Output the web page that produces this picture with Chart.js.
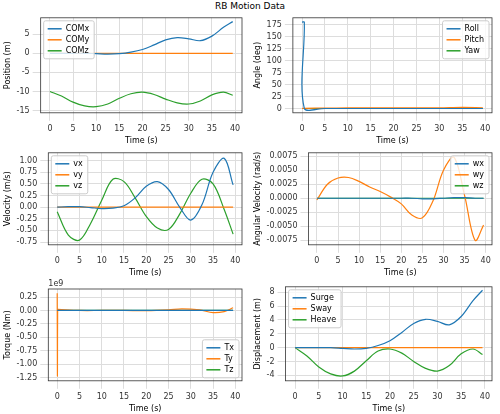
<!DOCTYPE html><html><head><meta charset="utf-8">
<script src="https://cdn.jsdelivr.net/npm/chart.js@4"></script>
<style>body{margin:0;width:500px;height:414px;background:#fff;font-family:"DejaVu Sans";position:relative;overflow:hidden}
.c{position:absolute}#title{position:absolute;top:1px;left:0;width:500px;text-align:center;font-size:9px;color:#000}</style></head><body>
<div id="title">RB Motion Data</div>
<div class="c" style="left:0;top:10px;width:250px;height:136px"><canvas id="c1"></canvas></div>
<div class="c" style="left:250px;top:10px;width:250px;height:136px"><canvas id="c2"></canvas></div>
<div class="c" style="left:0;top:145px;width:250px;height:133px"><canvas id="c3"></canvas></div>
<div class="c" style="left:250px;top:145px;width:250px;height:133px"><canvas id="c4"></canvas></div>
<div class="c" style="left:0;top:279px;width:250px;height:135px"><canvas id="c5"></canvas></div>
<div class="c" style="left:250px;top:279px;width:250px;height:135px"><canvas id="c6"></canvas></div>
<script>
const t=[0,2.5,5,7.5,10,12.5,15,17.5,20,22.5,25,27.5,30,32.5,35,37.5,39.5];
const zeros=t.map(()=>0);
const COMx=[0,0,0,0,-0.1,-0.2,-0.1,0.3,1.0,2.2,3.5,4.1,3.8,3.3,4.5,6.8,8.3];
const COMy=zeros;
const COMz=[-10,-11.2,-12.8,-13.8,-14,-13.3,-11.8,-10.6,-10.2,-10.8,-12,-13,-13.3,-12.5,-10.9,-10.2,-11];
const tAng=[0,0.5,0.5,5,10,15,20,25,30,35,39.5];
const Roll=[180,180,0,0,0,0,0,0,0,0,0];
const Pitch=[0,0.3,0.3,0.8,1.2,1.5,1.4,1.2,1.3,2.2,1.5];
const Yaw=[0,0,0,0,0,0,0,0,0,0,0];
const vx=[0,0.01,0.01,-0.01,-0.03,-0.02,0.03,0.2,0.45,0.55,0.38,0.0,-0.28,0.05,0.75,1.05,0.48];
const vy=zeros;
const vz=[-0.1,-0.6,-0.71,-0.35,0.15,0.6,0.55,0.2,-0.2,-0.45,-0.48,-0.15,0.3,0.6,0.5,-0.05,-0.58];
const wx=[0,0,0,0,0,0,0,0,0,0,-0.0001,-0.0001,0,0.0001,0.0001,0,0];
const wy=[-0.0003,0.0025,0.0036,0.0037,0.003,0.002,0.0012,0.0002,-0.001,-0.003,-0.0035,-0.0005,0.005,0.0073,0.0005,-0.0075,-0.0048];
const wz=zeros;
const tTq=[0,0.05,0.1,0.2,5,10,15,20,25,28,32,35,37.5,39.5];
const Tx=[0,0,0,0,0,0,0,0,0,0,0,0,0,0];
const Ty=[0.32,-1.22,0.02,0.02,0,0,0,-0.005,0.01,0.03,0.01,-0.04,-0.02,0.05]; // units of 1e9 Nm
const Tz=[0,0,0,0,0,0,0,0,0,0,0,0,0,0];
const Surge=COMx;
const Sway=zeros;
const Heave=[0,-1.2,-2.8,-3.8,-4.1,-3.4,-1.9,-0.5,-0.2,-0.8,-2,-3,-3.4,-2.6,-0.9,-0.2,-1];
const C=['#1f77b4','#ff7f0e','#2ca02c'];
const legendPlugin={id:'ilg',afterDraw(ch,a,o){const ctx=ch.ctx,ca=ch.chartArea,ds=ch.data.datasets;ctx.save();ctx.font='8px "DejaVu Sans"';
 let w=0;ds.forEach(d=>w=Math.max(w,ctx.measureText(d.label).width));const bw=w+27,bh=ds.length*11+5;
 let x=o.pos.includes('right')?ca.right-bw-3:ca.left+3,y=o.pos.includes('bottom')?ca.bottom-bh-3:ca.top+3;
 ctx.fillStyle='rgba(255,255,255,0.8)';ctx.strokeStyle='#ccc';ctx.lineWidth=1;ctx.beginPath();ctx.roundRect(x,y,bw,bh,2);ctx.fill();ctx.stroke();
 ds.forEach((d,i)=>{const yy=y+8+i*11;ctx.strokeStyle=d.borderColor;ctx.lineWidth=1.5;ctx.beginPath();ctx.moveTo(x+4,yy);ctx.lineTo(x+18,yy);ctx.stroke();
 ctx.fillStyle='#000';ctx.textBaseline='middle';ctx.fillText(d.label,x+22,yy);});ctx.restore();}};
const framePlugin={id:'frm',afterDatasetsDraw(ch){const c=ch.ctx,a=ch.chartArea;c.save();c.strokeStyle='#333';c.lineWidth=0.8;c.strokeRect(a.left,a.top,a.right-a.left,a.bottom-a.top);c.restore();}};
const expPlugin={id:'exp',afterDraw(ch,a,o){if(!o.text)return;const c=ch.ctx;c.save();c.font='8px "DejaVu Sans"';c.fillStyle='#333';c.fillText(o.text,ch.chartArea.left,ch.chartArea.top-3);c.restore();}};
function mk(id,tx,names,series,ylab,ymin,ymax,step,pos,dec,exp){
 new Chart(document.getElementById(id),{type:'line',
 data:{datasets:series.map((s,i)=>({label:names[i],data:s.map((v,j)=>({x:tx[j],y:v})),borderColor:C[i],borderWidth:1.2,pointRadius:0,tension:0.35}))},
 options:{responsive:true,maintainAspectRatio:false,animation:false,layout:{padding:{top:exp?10:4,right:8,left:2}},
 plugins:{legend:{display:false},tooltip:{enabled:false},ilg:{pos},exp:{text:exp}},
 scales:{x:{type:'linear',min:-2,max:41.5,afterBuildTicks(ax){ax.ticks=[0,5,10,15,20,25,30,35,40].map(v=>({value:v}));},
  grid:{color:'#ddd'},border:{display:false},ticks:{font:{size:8,family:'DejaVu Sans'},color:'#333',maxRotation:0},
  title:{display:true,text:'Time (s)',font:{size:8,family:'DejaVu Sans'},color:'#000',padding:0}},
 y:{min:ymin,max:ymax,afterBuildTicks(ax){const r=[];for(let v=Math.ceil(ymin/step)*step;v<=ymax+1e-12;v+=step)r.push({value:+v.toFixed(6)});ax.ticks=r;},
  grid:{color:'#ddd'},border:{display:false},ticks:{font:{size:8,family:'DejaVu Sans'},color:'#333',callback:v=>(Math.abs(v)<1e-12?0:v).toFixed(dec)},
  title:{display:true,text:ylab,font:{size:8,family:'DejaVu Sans'},color:'#000',padding:1}}}},
 plugins:[legendPlugin,framePlugin,expPlugin]});}
mk('c1',t,['COMx','COMy','COMz'],[COMx,COMy,COMz],'Position (m)',-15.6,9.3,5,'left-top',0);
mk('c2',tAng,['Roll','Pitch','Yaw'],[Roll,Pitch,Yaw],'Angle (deg)',-9,189,25,'right-top',0);
mk('c3',t,['vx','vy','vz'],[vx,vy,vz],'Velocity (m/s)',-0.81,1.17,0.25,'left-top',2);
mk('c4',t,['wx','wy','wz'],[wx,wy,wz],'Angular Velocity (rad/s)',-0.0083,0.0081,0.0025,'right-top',4);
mk('c5',tTq,['Tx','Ty','Tz'],[Tx,Ty,Tz],'Torque (Nm)',-1.31,0.4,0.25,'right-bottom',2,'1e9');
mk('c6',t,['Surge','Sway','Heave'],[Surge,Sway,Heave],'Displacement (m)',-4.8,8.8,2,'left-top',0);
</script></body></html>
